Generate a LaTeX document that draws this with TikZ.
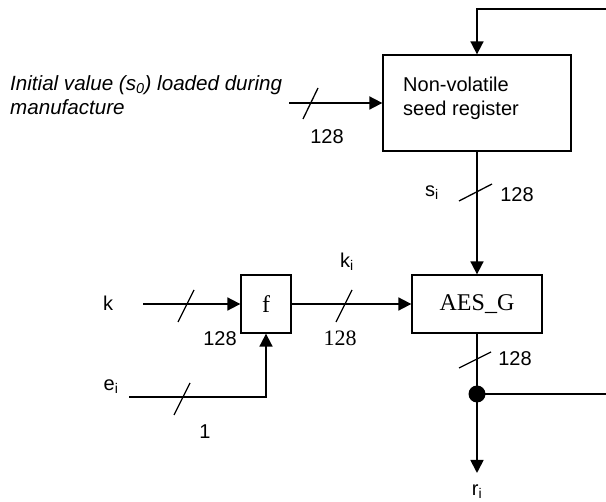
\documentclass[tikz,border=0pt]{standalone}
\usepackage{fontspec}
\setmainfont{Liberation Sans}
\newfontfamily\seriffnt{Liberation Serif}
\usetikzlibrary{arrows.meta}
\begin{document}
\begin{tikzpicture}[x=1pt,y=-1pt,
  every node/.style={font=\fontsize{20}{24}\selectfont, inner sep=0pt},
  blk/.style={draw, line width=1.3pt},
  wire/.style={line width=1.8pt},
  arr/.style={wire, -{Triangle[length=13pt,width=13pt]}},
  slash/.style={line width=1.3pt},
  sernode/.style={font=\fontsize{24}{28}\selectfont\seriffnt},
  dotnode/.style={circle, fill=black, minimum size=17pt}]
\useasboundingbox (0,0) rectangle (606,502);
% blocks
\node[blk, minimum width=188pt, minimum height=96pt] (seed) at (477,103) {};
\node[anchor=west, align=left] (seedtxt) at (403,98) {Non-volatile\\seed register};
\node[blk, sernode, minimum width=130pt, minimum height=58pt] (aes) at (477,304) {AES\_G};
\node[blk, sernode, minimum width=50pt, minimum height=58pt] (f) at (266,304) {f};
\node[dotnode] (dot) at (477,394) {};
% initial value input
\node[anchor=west, align=left, font=\fontsize{20.6}{24}\selectfont\itshape] (init) at (10,95) {Initial value (s\textsubscript{0}) loaded during\\manufacture};
\coordinate (initS) at (289,103);
\draw[arr] (initS) -- (seed.west);
\draw[slash] (303,119) -- (318,88);
\node (n128a) at (327,137) {128};
% s_i
\draw[arr] (seed.south) -- (aes.north);
\draw[slash] (459,201) -- (492,184);
\node (si) at (432,193) {s\textsubscript{i}};
\node (n128b) at (517,195) {128};
% k input
\node (k) at (108,303) {k};
\coordinate (kS) at (143,304);
\draw[arr] (kS) -- (f.west);
\draw[slash] (178,322) -- (194,290);
\node (n128c) at (220,339) {128};
% k_i
\draw[arr] (f.east) -- (aes.west);
\draw[slash] (336,322) -- (352,290);
\node (ki) at (347,262) {k\textsubscript{i}};
\node[font=\fontsize{22}{26}\selectfont\seriffnt] (n128d) at (340,338) {128};
% e_i input
\node (ei) at (111,387) {e\textsubscript{i}};
\coordinate (eS) at (129,397);
\coordinate (eC) at (266,397);
\draw[arr] (eS) -- (eC) -- (f.south);
\draw[slash] (174,415) -- (190,383);
\node (n1) at (205,432) {1};
% AES output
\draw[wire] (aes.south) -- (dot.center);
\draw[slash] (459,368) -- (491,352);
\node (n128e) at (515,359) {128};
\coordinate (rT) at (477,473);
\draw[arr] (dot.center) -- (rT);
\node (ri) at (477,492) {r\textsubscript{i}};
% feedback
\coordinate (fbR) at (609,394);
\coordinate (fbT) at (609,9);
\coordinate (fbL) at (477,9);
\draw[arr] (dot.center) -- (fbR) -- (fbT) -- (fbL) -- (seed.north);
\end{tikzpicture}
\end{document}
